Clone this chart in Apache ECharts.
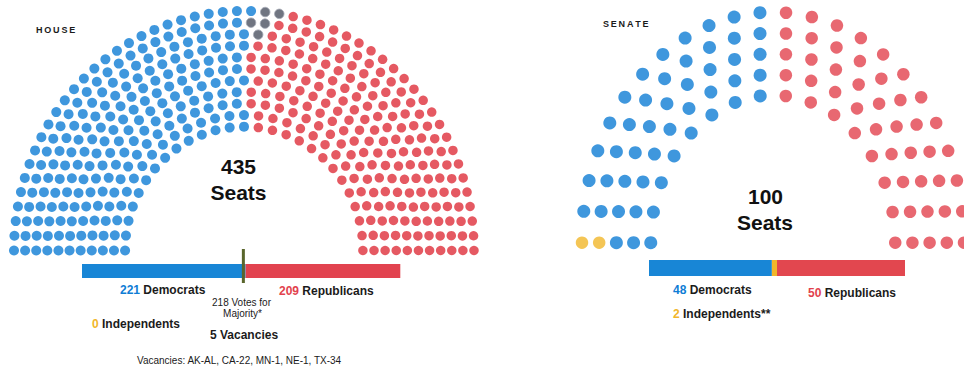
<!DOCTYPE html>
<html><head><meta charset="utf-8">
<script src="https://cdn.jsdelivr.net/npm/echarts@6/dist/echarts.min.js"></script>
<style>html,body{margin:0;padding:0;background:#fff}#c{width:964px;height:370px}</style>
</head><body><div id="c"></div>
<script>
// ---- data ----
const houseParties = ['Democrats', 'Vacancies', 'Republicans'];
const houseSeats = [221, 5, 209];
const houseIndependents = 0;
const houseMajority = 218;
const houseVacancyList = 'AK-AL, CA-22, MN-1, NE-1, TX-34';
const senateParties = ['Independents', 'Democrats', 'Republicans'];
const senateSeats = [2, 48, 50];
const houseRows = 11;
const senateRows = 5;

// ---- styles ----
const BLUE = '#0f7dd5', RED = '#df2f3b', RED2 = '#e2424d', YEL = '#f1b62a', GRAY = '#4c5262';
const FONT = "'Liberation Sans', Arial, sans-serif";
const HOUSE_GEO = {left: 14, top: 11, rx: 230, ry: 239.5, inner: 0.517};
const SENATE_GEO = {left: 582, top: 12.2, rx: 191, ry: 230.5, inner: 0.64};

const sum = a => a.reduce((s, v) => s + v, 0);

function layout(total, rows, inner) {
  const radii = [];
  for (let i = 0; i < rows; i++) radii.push(inner + (1 - inner) * i / (rows - 1));
  const sr = sum(radii);
  const raw = radii.map(r => total * r / sr);
  const counts = raw.map(Math.floor);
  let rem = total - sum(counts);
  raw.map((v, i) => [v - Math.floor(v), i]).sort((a, b) => b[0] - a[0])
     .slice(0, rem).forEach(([, i]) => counts[i]++);
  const seats = [];
  counts.forEach((n, i) => {
    for (let j = 0; j < n; j++) {
      const a = Math.PI * (1 - j / (n - 1));
      seats.push({row: i, r: radii[i], a, x: radii[i] * Math.cos(a), y: radii[i] * Math.sin(a)});
    }
  });
  seats.sort((p, q) => Math.abs(p.a - q.a) > 1e-9 ? q.a - p.a : q.r - p.r);
  return seats;
}

// House: Democrats by angle from the left, vacancies clustered next to the top of the boundary, rest Republicans
const hSeats = layout(sum(houseSeats), houseRows, HOUSE_GEO.inner);
hSeats.slice(0, houseSeats[0]).forEach(s => s.p = 0);
const anchor = hSeats.slice(0, houseSeats[0]).filter(s => s.row === houseRows - 1).pop();
const hRest = hSeats.slice(houseSeats[0]).map(s => ({s, d: Math.hypot((s.x - anchor.x) * HOUSE_GEO.rx, (s.y - anchor.y) * HOUSE_GEO.ry)}))
  .sort((a, b) => a.d - b.d);
hRest.forEach((o, k) => o.s.p = k < houseSeats[1] ? 1 : 2);

// Senate: by angle
const sSeats = layout(sum(senateSeats), senateRows, SENATE_GEO.inner);
let acc = 0;
senateSeats.forEach((n, p) => { sSeats.slice(acc, acc + n).forEach(s => s.p = p); acc += n; });

const pts = (seats, p) => seats.filter(s => s.p === p).map(s => [s.x, s.y]);

const chart = echarts.init(document.getElementById('c'), null, {renderer: 'svg'});
const hTotal = sum(houseSeats);
const sTotal = sum(senateSeats);

const txt = (text, x, y, size, weight, opts = {}) => ({
  type: 'text', silent: true, z: 100,
  style: Object.assign({text, x, y, fontFamily: FONT, fontSize: size, fontWeight: weight, fill: '#1b1b1b',
    textAlign: 'left', textVerticalAlign: 'middle'}, opts)
});
const rich = {
  b: {fill: BLUE, fontFamily: FONT, fontWeight: 'bold'},
  r: {fill: RED2, fontFamily: FONT, fontWeight: 'bold'},
  y: {fill: YEL, fontFamily: FONT, fontWeight: 'bold'},
  k: {fill: '#1b1b1b', fontFamily: FONT, fontWeight: 'bold'}
};

const option = {
  animation: false,
  backgroundColor: '#ffffff',
  grid: [
    {left: HOUSE_GEO.left, top: HOUSE_GEO.top, width: HOUSE_GEO.rx * 2, height: HOUSE_GEO.ry},
    {left: SENATE_GEO.left, top: SENATE_GEO.top, width: SENATE_GEO.rx * 2, height: SENATE_GEO.ry},
    {left: 82, top: 264, width: 322, height: 14},
    {left: 82, top: 249, width: 322, height: 34},
    {left: 649, top: 260, width: 256, height: 16}
  ],
  xAxis: [
    {gridIndex: 0, type: 'value', min: -1, max: 1, show: false},
    {gridIndex: 1, type: 'value', min: -1, max: 1, show: false},
    {gridIndex: 2, type: 'value', min: 0, max: hTotal, show: false},
    {gridIndex: 3, type: 'value', min: 0, max: hTotal, show: false},
    {gridIndex: 4, type: 'value', min: 0, max: sTotal, show: false}
  ],
  yAxis: [
    {gridIndex: 0, type: 'value', min: 0, max: 1, show: false},
    {gridIndex: 1, type: 'value', min: 0, max: 1, show: false},
    {gridIndex: 2, type: 'category', data: ['House'], show: false},
    {gridIndex: 3, type: 'value', min: 0, max: 1, show: false},
    {gridIndex: 4, type: 'category', data: ['Senate'], show: false}
  ],
  series: [
    {name: 'House ' + houseParties[0], type: 'scatter', xAxisIndex: 0, yAxisIndex: 0, clip: false, symbolSize: 10,
      itemStyle: {color: BLUE}, data: pts(hSeats, 0)},
    {name: 'House ' + houseParties[1], type: 'scatter', xAxisIndex: 0, yAxisIndex: 0, clip: false, symbolSize: 9.5,
      itemStyle: {color: GRAY, borderColor: '#a4a9b4', borderWidth: 1}, data: pts(hSeats, 1)},
    {name: 'House ' + houseParties[2], type: 'scatter', xAxisIndex: 0, yAxisIndex: 0, clip: false, symbolSize: 9.5,
      itemStyle: {color: RED}, data: pts(hSeats, 2)},
    {name: 'Senate ' + senateParties[0], type: 'scatter', xAxisIndex: 1, yAxisIndex: 1, clip: false, symbolSize: 12.5,
      itemStyle: {color: YEL}, data: pts(sSeats, 0)},
    {name: 'Senate ' + senateParties[1], type: 'scatter', xAxisIndex: 1, yAxisIndex: 1, clip: false, symbolSize: 13,
      itemStyle: {color: BLUE}, data: pts(sSeats, 1)},
    {name: 'Senate ' + senateParties[2], type: 'scatter', xAxisIndex: 1, yAxisIndex: 1, clip: false, symbolSize: 12.5,
      itemStyle: {color: RED2}, data: pts(sSeats, 2)},
    {type: 'bar', xAxisIndex: 2, yAxisIndex: 2, stack: 'h', barWidth: '100%', itemStyle: {color: '#1886d6'}, data: [houseSeats[0]]},
    {type: 'bar', xAxisIndex: 2, yAxisIndex: 2, stack: 'h', barWidth: '100%', itemStyle: {color: '#e2434f'}, data: [houseSeats[2]]},
    {type: 'line', xAxisIndex: 3, yAxisIndex: 3, z: 5, showSymbol: false, symbol: 'none',
      lineStyle: {color: '#5a662c', width: 3}, data: [[houseMajority, 0], [houseMajority, 1]]},
    {type: 'bar', xAxisIndex: 4, yAxisIndex: 4, stack: 's', barWidth: '100%', itemStyle: {color: '#1886d6'}, data: [senateSeats[1]]},
    {type: 'bar', xAxisIndex: 4, yAxisIndex: 4, stack: 's', barWidth: '100%', itemStyle: {color: YEL}, data: [senateSeats[0]]},
    {type: 'bar', xAxisIndex: 4, yAxisIndex: 4, stack: 's', barWidth: '100%', itemStyle: {color: '#e2474f'}, data: [senateSeats[2]]}
  ],
  graphic: [
    txt('H\u2009O\u2009U\u2009S\u2009E', 36, 30, 9, 'bold'),
    txt('S\u2009E\u2009N\u2009A\u2009T\u2009E', 603, 24, 9, 'bold'),
    txt(String(hTotal), 238.5, 166, 21, 'bold', {textAlign: 'center', fill: '#111'}),
    txt('Seats', 238.5, 192, 21, 'bold', {textAlign: 'center', fill: '#111'}),
    txt(String(sTotal), 765.5, 196, 21, 'bold', {textAlign: 'center', fill: '#111'}),
    txt('Seats', 765, 222, 21, 'bold', {textAlign: 'center', fill: '#111'}),
    txt('{b|' + houseSeats[0] + '}{k| ' + houseParties[0] + '}', 120, 290, 11, 'bold', {rich}),
    txt('{r|' + houseSeats[2] + '}{k| ' + houseParties[2] + '}', 279, 291, 11, 'bold', {rich}),
    txt(houseMajority + ' Votes for', 241.5, 302, 10, 'normal', {textAlign: 'center'}),
    txt('Majority*', 242.5, 313, 10, 'normal', {textAlign: 'center'}),
    txt('{y|' + houseIndependents + '}{k| Independents}', 92, 324, 11, 'bold', {rich}),
    txt('{k|' + houseSeats[1] + ' ' + houseParties[1] + '}', 210, 335, 11, 'bold', {rich}),
    txt('Vacancies: ' + houseVacancyList, 137, 360, 10, 'normal'),
    txt('{b|' + senateSeats[1] + '}{k| ' + senateParties[1] + '}', 673, 290, 10, 'bold', {rich}),
    txt('{r|' + senateSeats[2] + '}{k| ' + senateParties[2] + '}', 808, 293, 10, 'bold', {rich}),
    txt('{y|' + senateSeats[0] + '}{k| ' + senateParties[0] + '**}', 673, 314, 10, 'bold', {rich})
  ]
};
chart.setOption(option);
</script></body></html>
